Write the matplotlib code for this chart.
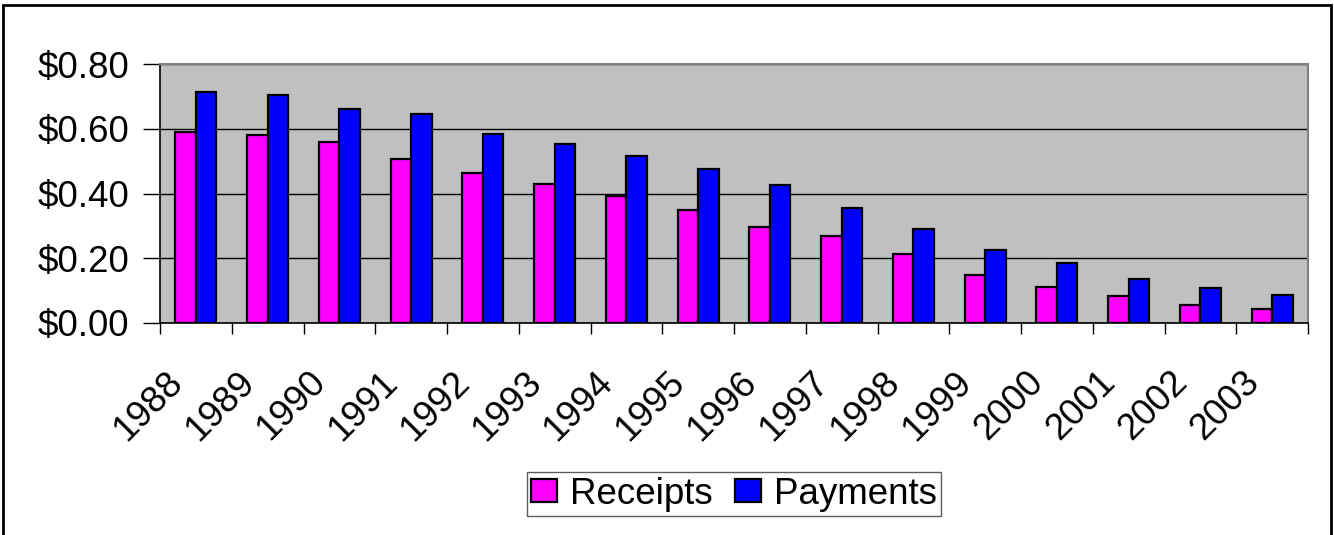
import matplotlib.pyplot as plt
import numpy as np
from matplotlib.patches import Rectangle
from matplotlib.ticker import FuncFormatter, FixedLocator
from matplotlib.transforms import ScaledTranslation

years = ['1988', '1989', '1990', '1991', '1992', '1993', '1994', '1995',
         '1996', '1997', '1998', '1999', '2000', '2001', '2002', '2003']
receipts = [0.591, 0.581, 0.560, 0.507, 0.462, 0.428, 0.393, 0.350,
            0.296, 0.268, 0.212, 0.147, 0.112, 0.083, 0.055, 0.043]
payments = [0.713, 0.703, 0.661, 0.647, 0.585, 0.554, 0.515, 0.477,
            0.427, 0.354, 0.290, 0.225, 0.185, 0.137, 0.108, 0.086]

plt.rcParams['font.family'] = ['Liberation Sans', 'DejaVu Sans']
FS = 26.5

fig = plt.figure(figsize=(13.34, 5.35), dpi=100)
W, H = 1334, 535
ax = fig.add_axes([160 / W, 1 - 323 / H, (1308 - 160) / W, (323 - 64) / H])
ax.set_facecolor('#C0C0C0')

x = np.arange(len(years))
bw = 0.285
ax.bar(x - bw / 2, receipts, bw, color='#FF00FF', edgecolor='black', linewidth=1.6,
       label='Receipts', zorder=3)
ax.bar(x + bw / 2, payments, bw, color='#0000FF', edgecolor='black', linewidth=1.6,
       label='Payments', zorder=3)

ax.set_xlim(-0.5, len(years) - 0.5)
ax.set_ylim(0, 0.8)
ax.set_yticks([0, 0.2, 0.4, 0.6, 0.8])
ax.yaxis.set_major_formatter(FuncFormatter(lambda v, p: '${:.2f}'.format(v)))
ax.grid(axis='y', color='black', linewidth=1, zorder=1)

# category labels centred, ticks at the boundaries
ax.set_xticks(x)
ax.set_xticklabels(years, rotation=45, ha='right', va='top', rotation_mode='anchor')
ax.tick_params(axis='x', length=0, labelsize=FS, pad=30)
shift = ScaledTranslation(-0.31, 0, fig.dpi_scale_trans)
for lab in ax.get_xticklabels():
    lab.set_transform(lab.get_transform() + shift)
ax.xaxis.set_minor_locator(FixedLocator(np.arange(-0.5, len(years), 1.0)))
ax.tick_params(axis='x', which='minor', length=8, width=1, direction='out', color='black')
ax.tick_params(axis='y', length=12, width=1, direction='out', labelsize=FS, pad=10)

for s in ['top', 'right']:
    ax.spines[s].set_color('#808080')
    ax.spines[s].set_linewidth(1.5)
for s in ['left', 'bottom']:
    ax.spines[s].set_color('black')
    ax.spines[s].set_linewidth(1.2)

leg = fig.legend(loc='center', bbox_to_anchor=(734 / W, 1 - 494 / H), ncol=2,
                 fontsize=FS, frameon=True, fancybox=False, edgecolor='#333333',
                 handlelength=0.7, handleheight=0.6, handletextpad=0.35,
                 columnspacing=0.6, borderpad=0.12, borderaxespad=0)
leg.get_frame().set_linewidth(1)

# outer chart frame
fig.patches.append(Rectangle((3 / W, -0.05), (1331 - 3) / W, 1.05 - 5 / H,
                             transform=fig.transFigure, fill=False,
                             edgecolor='black', linewidth=2))

fig.savefig('out.png', dpi=100)
